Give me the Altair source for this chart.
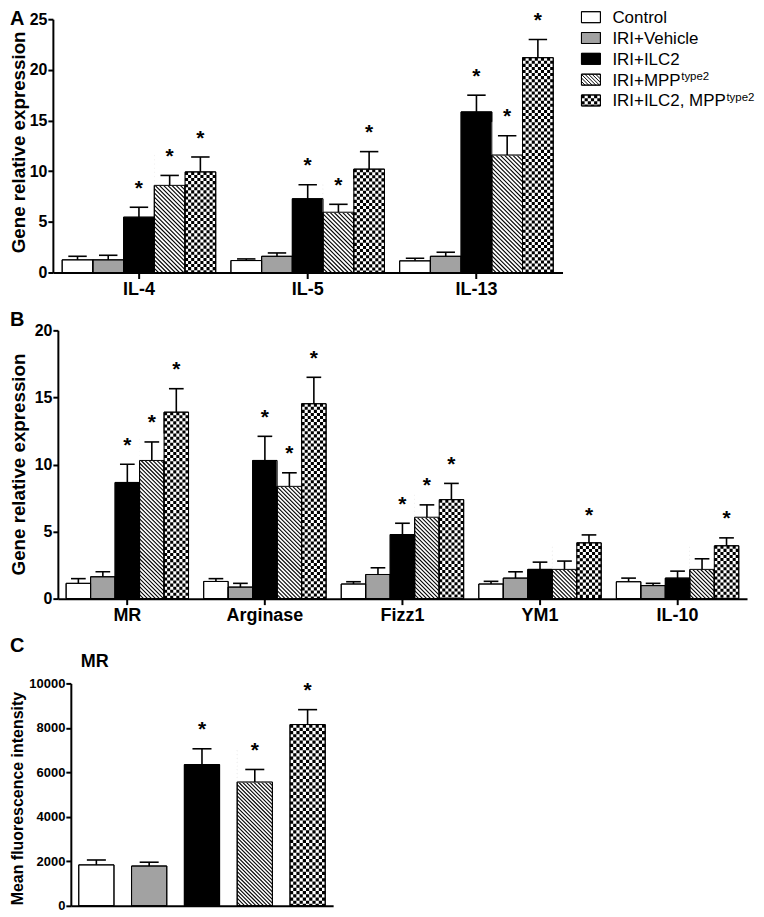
import altair as alt
import pandas as pd

FONT = "Liberation Sans"

# ---------------- data ----------------
series_keys = ["Control", "Vehicle", "ILC2", "MPP", "Both"]
series_fill = ["#ffffff", "#a2a2a2", "#000000", "#ffffff", "#ffffff"]
legend_main = ["Control", "IRI+Vehicle", "IRI+ILC2", "IRI+MPP", "IRI+ILC2, MPP"]
legend_sup = ["", "", "", "type2", "type2"]

# Panel A
a_genes = ["IL-4", "IL-5", "IL-13"]
a_control = [1.25, 1.18, 1.15]
a_control_err = [0.35, 0.16, 0.25]
a_vehicle = [1.25, 1.6, 1.6]
a_vehicle_err = [0.45, 0.33, 0.4]
a_ilc2 = [5.46, 7.28, 15.85]
a_ilc2_err = [0.98, 1.38, 1.65]
a_mpp = [8.6, 5.95, 11.6]
a_mpp_err = [0.98, 0.78, 1.9]
a_both = [9.93, 10.2, 21.2]
a_both_err = [1.47, 1.73, 1.8]
a_star = [[0, 0, 0], [0, 0, 0], [1, 1, 1], [1, 1, 1], [1, 1, 1]]

# Panel B
b_genes = ["MR", "Arginase", "Fizz1", "YM1", "IL-10"]
b_control = [1.14, 1.28, 1.09, 1.09, 1.26]
b_control_err = [0.35, 0.21, 0.17, 0.2, 0.27]
b_vehicle = [1.63, 0.86, 1.8, 1.53, 0.97]
b_vehicle_err = [0.37, 0.28, 0.5, 0.47, 0.17]
b_ilc2 = [8.66, 10.3, 4.78, 2.18, 1.53]
b_ilc2_err = [1.36, 1.8, 0.84, 0.54, 0.52]
b_mpp = [10.3, 8.37, 6.07, 2.18, 2.18]
b_mpp_err = [1.38, 1.01, 0.92, 0.62, 0.79]
b_both = [13.9, 14.53, 7.38, 4.16, 3.94]
b_both_err = [1.75, 1.97, 1.21, 0.59, 0.59]
b_star = [[0] * 5, [0] * 5, [1, 1, 1, 0, 0], [1, 1, 1, 0, 0], [1, 1, 1, 1, 1]]

# Panel C (MR, mean fluorescence intensity)
c_mean = [1840, 1790, 6350, 5570, 8150]
c_err = [220, 170, 710, 560, 670]
c_star = [0, 0, 1, 1, 1]

# Arial / Liberation Sans advance widths (per 1000 em) for legend superscript placement
ARIAL_W = {"I": 278, "R": 722, "+": 584, "M": 833, "P": 667, "L": 556, "C": 722,
           "2": 556, ",": 278, " ": 278, "V": 667, "e": 556, "h": 556, "i": 222,
           "c": 500, "l": 222, "o": 556, "n": 556, "t": 278, "r": 333}

STAR_FS = 21
STAR_GAP = 12.5  # px from error cap to star baseline


def grouped_df(cats, means, errs, stars):
    rows = []
    for si, s in enumerate(series_keys):
        for ci, c in enumerate(cats):
            m = means[si][ci]
            rows.append({"cat": c, "series": s, "mean": m, "hi": m + errs[si][ci],
                         "star": stars[si][ci], "zero": 0.0})
    return pd.DataFrame(rows)


dfA = grouped_df(a_genes,
                 [a_control, a_vehicle, a_ilc2, a_mpp, a_both],
                 [a_control_err, a_vehicle_err, a_ilc2_err, a_mpp_err, a_both_err], a_star)
dfB = grouped_df(b_genes,
                 [b_control, b_vehicle, b_ilc2, b_mpp, b_both],
                 [b_control_err, b_vehicle_err, b_ilc2_err, b_mpp_err, b_both_err], b_star)
dfC = pd.DataFrame({"series": series_keys, "mean": c_mean,
                    "hi": [m + e for m, e in zip(c_mean, c_err)],
                    "star": c_star, "zero": [0.0] * 5})


def build_panel(df, cats, grouped, W, H, ymax, yticks, pi, po, ytitle, ytitle_size,
                ytick_size, title_x, title_y, letter, lx, ly, cap_frac, hatch_p,
                xlabels=True, yformat=None, extra=None, bottom_ext=0):
    n = len(cats) if grouped else 5
    step = W / (n - pi + 2 * po)
    band = step * (1 - pi)
    barW = band / 5 if grouped else band
    ppu = H / ymax
    xfield = "cat" if grouped else "series"
    xdomain = cats if grouped else series_keys
    df = df.copy()
    df["sy"] = df["hi"] + STAR_GAP / ppu

    if xlabels:
        xaxis = alt.Axis(title=None, labelAngle=0, labelFont=FONT, labelFontSize=18,
                         labelFontWeight="bold", labelColor="black", labelPadding=2,
                         tickSize=6, tickWidth=2, tickColor="black", domainColor="black",
                         domainWidth=2, zindex=1)
    else:
        xaxis = alt.Axis(title=None, labels=False, ticks=False, domainColor="black",
                         domainWidth=2, zindex=1)
    ykw = dict(values=yticks, title=ytitle, titleX=title_x, titleY=title_y, titleFont=FONT,
               titleFontSize=ytitle_size, titleFontWeight="bold", titleColor="black",
               titleBaseline="alphabetic", titleAngle=270, labelFont=FONT,
               labelFontSize=ytick_size, labelFontWeight="bold", labelColor="black",
               labelPadding=1, tickSize=5, tickWidth=2, tickColor="black",
               domainColor="black", domainWidth=2, grid=False, zindex=1)
    if yformat:
        ykw["format"] = yformat
    yaxis = alt.Axis(**ykw)

    def X():
        return alt.X(f"{xfield}:N", sort=xdomain,
                     scale=alt.Scale(domain=xdomain, paddingInner=pi, paddingOuter=po),
                     axis=xaxis)

    def Y(f):
        return alt.Y(f"{f}:Q", scale=alt.Scale(domain=[0, ymax], nice=False), axis=yaxis)

    def pos():
        d = {"x": X()}
        if grouped:
            d["xOffset"] = alt.XOffset("series:N", sort=series_keys,
                                       scale=alt.Scale(domain=series_keys,
                                                       paddingInner=0, paddingOuter=0))
        return d

    def dxl(si):
        return (si - 2.5) * barW if grouped else -barW / 2

    layers = []
    layers.append(alt.Chart(df).mark_bar(stroke="black", strokeWidth=1).encode(
        **pos(), y=Y("mean"),
        fill=alt.Fill("series:N", scale=alt.Scale(domain=series_keys, range=series_fill),
                      legend=None)))

    # diagonal hatch for MPP bars
    mpp = df[df.series == "MPP"]
    groups = {}
    for _, r in mpp.iterrows():
        h = r["mean"] * ppu
        j = 1
        while True:
            c = j * hatch_p
            if c - barW >= h:
                break
            if c < barW:
                key = round(c, 4)
                y1, y2 = c / ppu, 0.0
            else:
                key = barW
                y1, y2 = c / ppu, (c - barW) / ppu
            groups.setdefault(key, []).append({xfield: r[xfield], "y1": y1, "y2": y2})
            j += 1
    for key, rows in groups.items():
        layers.append(alt.Chart(pd.DataFrame(rows)).mark_rule(
            color="black", strokeWidth=1.1, xOffset=dxl(3), x2Offset=dxl(3) + key).encode(
            x=X(), x2=alt.X2(field=xfield), y=Y("y1"), y2=alt.Y2("y2")))
    cov = mpp.copy()
    cov["cover"] = cov["mean"] + (barW + 2) / ppu
    layers.append(alt.Chart(cov).mark_bar(fill="white", stroke="white", strokeWidth=1).encode(
        **pos(), y=Y("mean"), y2=alt.Y2("cover")))

    # checkerboard for combined bars
    ncol = max(2, round(barW / 3.1))
    cw = barW / ncol
    both = df[df.series == "Both"]
    for k in range(ncol):
        layers.append(alt.Chart(both).mark_rule(
            color="black", strokeWidth=cw, strokeDash=[cw, cw],
            strokeDashOffset=(0 if k % 2 == 0 else cw),
            xOffset=dxl(4) + (k + 0.5) * cw).encode(x=X(), y=Y("mean"), y2=alt.Y2("zero")))

    # outlines
    layers.append(alt.Chart(df).mark_bar(fillOpacity=0, stroke="black", strokeWidth=1).encode(
        **pos(), y=Y("mean")))
    # error bars
    layers.append(alt.Chart(df).mark_rule(color="black", strokeWidth=1.6).encode(
        **pos(), y=Y("mean"), y2=alt.Y2("hi")))
    layers.append(alt.Chart(df).mark_tick(color="black", thickness=1.6, opacity=1,
                                          size=cap_frac * barW).encode(**pos(), y=Y("hi")))
    # significance stars
    layers.append(alt.Chart(df[df.star == 1]).mark_text(
        text="*", font=FONT, fontSize=STAR_FS, fontWeight="bold", baseline="alphabetic",
        color="black").encode(**pos(), y=Y("sy")))
    # panel letter
    layers.append(alt.Chart(pd.DataFrame({"t": [letter]})).mark_text(
        align="left", baseline="top", font=FONT, fontSize=20, fontWeight="bold",
        color="black").encode(text="t:N", x=alt.value(lx), y=alt.value(ly)))
    if extra:
        txt, ex, ey, fs = extra
        layers.append(alt.Chart(pd.DataFrame({"t": [txt]})).mark_text(
            align="left", baseline="alphabetic", font=FONT, fontSize=fs, fontWeight="bold",
            color="black").encode(text="t:N", x=alt.value(ex), y=alt.value(ey)))
    if bottom_ext:
        layers.append(alt.Chart(pd.DataFrame({"v": [0]})).mark_rect(opacity=0).encode(
            x=alt.value(0), x2=alt.value(1), y=alt.value(H), y2=alt.value(H + bottom_ext)))
    return alt.layer(*layers).properties(width=W, height=H)


panelA = build_panel(dfA, a_genes, True, 511, 254, 25, [0, 5, 10, 15, 20, 25], 0.09, 0.055,
                     "Gene relative expression", 18.8, 16, -28, 123, "A", -43, -10,
                     0.6, 4.2, bottom_ext=30)
panelB = build_panel(dfB, b_genes, True, 691, 269, 20, [0, 5, 10, 15, 20], 0.11, 0.06,
                     "Gene relative expression", 18.8, 16, -33, 134, "B", -48, -20,
                     0.6, 4.0, bottom_ext=30)
panelC = build_panel(dfC, series_keys, False, 263, 223, 10000,
                     [0, 2000, 4000, 6000, 8000, 10000], 0.333, 0.15,
                     "Mean fluorescence intensity", 16, 13, -48, 115, "C", -61, -47,
                     0.54, 3.8, xlabels=False, yformat="d", extra=("MR", 10, -16.5, 18))

# ---------------- legend ----------------
LW, LH = 175, 84
LPPU = 20.875
BOX_W, BOX_H = 19, 11
ydom = [2 / LPPU, 2 / LPPU + LH / LPPU]


def LX(f):
    return alt.X(f"{f}:Q", scale=alt.Scale(domain=[0, LW], nice=False, zero=False), axis=None)


def LY(f):
    return alt.Y(f"{f}:Q", scale=alt.Scale(domain=ydom, reverse=True, nice=False, zero=False),
                 axis=None)


def text_w(s, fs):
    return sum(ARIAL_W.get(ch, 556) for ch in s) * fs / 1000


LFS = 17
leg = pd.DataFrame({
    "idx": list(range(5)), "key": series_keys, "main": legend_main, "sup": legend_sup,
})
leg["x0"] = 0.0
leg["x1"] = float(BOX_W)
leg["yt"] = leg["idx"] - (BOX_H / 2) / LPPU
leg["yb"] = leg["idx"] + (BOX_H / 2) / LPPU
leg["ty"] = leg["idx"] + 6.0 / LPPU
leg["supy"] = leg["idx"] + 0.5 / LPPU
leg["tx"] = 31.0
leg["sx"] = [31.0 + text_w(m, LFS) + 0.5 for m in legend_main]

# hatch in legend box
hrows = []
ybot = 3 + (BOX_H / 2) / LPPU
c = 3.6
while c < BOX_W + BOX_H:
    us = max(0.0, c - BOX_H)
    ue = min(float(BOX_W), c)
    hrows.append({"hx0": us, "hx1": ue, "hy0": ybot - (c - us) / LPPU, "hy1": ybot - (c - ue) / LPPU})
    c += 3.6
hdf = pd.DataFrame(hrows)

# checker in legend box
lcols = 6
lcw = BOX_W / lcols
crow = []
for k in range(lcols):
    crow.append({"cx": (k + 0.5) * lcw, "par": k % 2,
                 "cy0": 4 - (BOX_H / 2) / LPPU, "cy1": 4 + (BOX_H / 2) / LPPU})
cdf = pd.DataFrame(crow)

leg_layers = [
    alt.Chart(leg).mark_rect(stroke="black", strokeWidth=1).encode(
        x=LX("x0"), x2=alt.X2("x1"), y=LY("yt"), y2=alt.Y2("yb"),
        fill=alt.Fill("key:N", scale=alt.Scale(domain=series_keys, range=series_fill),
                      legend=None)),
    alt.Chart(hdf).mark_rule(color="black", strokeWidth=1).encode(
        x=LX("hx0"), x2=alt.X2("hx1"), y=LY("hy0"), y2=alt.Y2("hy1")),
]
for par in (0, 1):
    leg_layers.append(alt.Chart(cdf[cdf.par == par]).mark_rule(
        color="black", strokeWidth=lcw, strokeDash=[lcw, lcw],
        strokeDashOffset=(0 if par == 0 else lcw)).encode(
        x=LX("cx"), y=LY("cy0"), y2=alt.Y2("cy1")))
leg_layers += [
    alt.Chart(leg).mark_rect(fillOpacity=0, stroke="black", strokeWidth=1).encode(
        x=LX("x0"), x2=alt.X2("x1"), y=LY("yt"), y2=alt.Y2("yb")),
    alt.Chart(leg).mark_text(align="left", baseline="alphabetic", font=FONT,
                             fontSize=LFS, color="black").encode(
        x=LX("tx"), y=LY("ty"), text="main:N"),
    alt.Chart(leg[leg.sup != ""]).mark_text(align="left", baseline="alphabetic",
                                            font=FONT, fontSize=11.5, color="black").encode(
        x=LX("sx"), y=LY("supy"), text="sup:N"),
]
legend = alt.layer(*leg_layers).properties(width=LW, height=LH)

# ---------------- layout ----------------
spacer = alt.Chart(pd.DataFrame({"v": [0]})).mark_rect(opacity=0).encode(
    x=alt.value(0), x2=alt.value(1), y=alt.value(0), y2=alt.value(1)).properties(width=1, height=1)

RES = dict(xOffset="independent", x="independent", y="independent")
rowA = alt.hconcat(spacer, alt.hconcat(panelA, legend, spacing=18).resolve_scale(**RES),
                   spacing=0).resolve_scale(**RES)
rowB = alt.hconcat(spacer, panelB, spacing=0).resolve_scale(**RES)
rowC = alt.hconcat(spacer, panelC, spacing=0).resolve_scale(**RES)

chart = alt.vconcat(rowA, rowB, rowC, spacing=8).resolve_scale(**RES).properties(
    padding=0, background="white").configure_view(strokeWidth=0)

chart.save("out.html", embed_options={"renderer": "svg", "actions": False})
